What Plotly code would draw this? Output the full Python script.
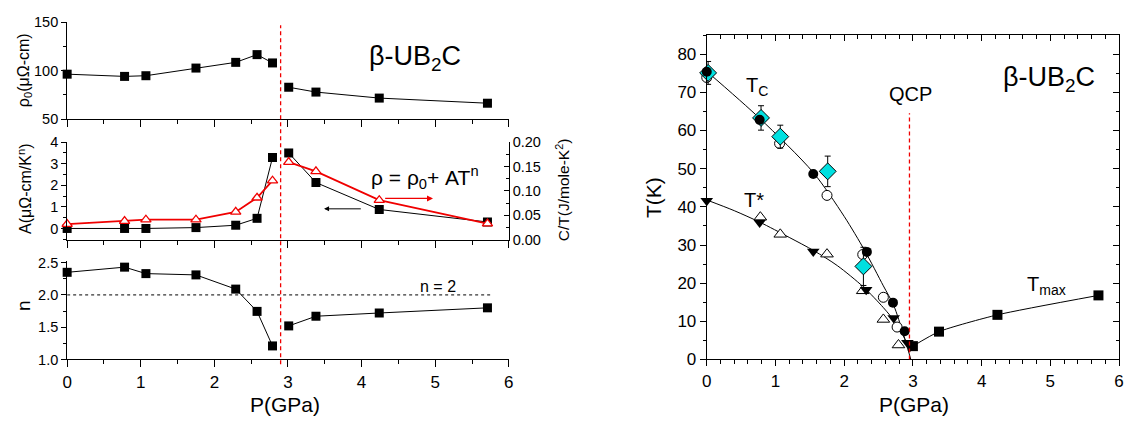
import plotly.graph_objects as go

W, H = 1131, 434
FONT = "Liberation Sans, Arial, sans-serif"
RED = "#f00000"
CYAN = "#00e0e0"

# ---- resistivity fit parameters vs pressure (left column) ----
pressure = [0, 0.78, 1.07, 1.75, 2.29, 2.58, 2.79, 3.01, 3.38, 4.24, 5.71]
rho0 = [96.5, 94.2, 94.9, 102.8, 108.7, 116.7, 108.1, 83.0, 78.0, 71.8, 66.5]
coef_a = [0.0, 0.0, 0.0, 0.04, 0.15, 0.47, 3.29, 3.50, 2.13, 0.88, 0.30]
c_over_t = [0.032, 0.038, 0.041, 0.041, 0.057, 0.086, 0.121, 0.159, 0.140, 0.081, 0.033]
exponent_n = [2.35, 2.43, 2.33, 2.31, 2.09, 1.745, 1.21, 1.52, 1.67, 1.72, 1.80]
p_qcp_left = 2.9

# ---- phase diagram (right column) ----
tc_fill_p = [0, 0.77, 1.55, 2.33, 2.71, 2.88]
tc_fill_t = [75.4, 62.8, 48.6, 28.2, 14.9, 7.4]
tc_open_p = [0, 1.06, 1.75, 2.27, 2.57, 2.77]
tc_open_t = [73.9, 56.6, 43.0, 27.5, 16.3, 8.5]
tc_dia_p = [0.02, 0.79, 1.07, 1.76, 2.28]
tc_dia_t = [75.1, 63.3, 58.4, 49.3, 24.4]
tc_dia_err = [3.0, 3.2, 3.0, 4.0, 5.0]
tstar_fill_p = [0, 0.77, 1.55, 2.32, 2.72, 2.92]
tstar_fill_t = [41.6, 35.9, 28.3, 18.3, 10.9, 4.4]
tstar_open_p = [0.78, 1.07, 1.75, 2.27, 2.57, 2.79]
tstar_open_t = [37.3, 32.8, 27.6, 18.0, 10.5, 3.8]
tmax_p = [3.0, 3.38, 4.23, 5.70]
tmax_t = [3.5, 7.3, 11.7, 16.8]
tc_curve_p = [0, 0.77, 1.55, 2.0, 2.3, 2.57, 2.72, 2.86, 2.97]
tc_curve_t = [75.5, 63.2, 49.0, 37.5, 28.5, 19.3, 14.2, 6.7, 0.0]
tstar_curve_p = [0, 0.4, 0.77, 1.2, 1.56, 1.9, 2.28, 2.57, 2.75, 2.88, 2.96]
tstar_curve_t = [41.8, 39.0, 36.0, 32.0, 28.5, 24.6, 19.0, 13.6, 9.6, 5.5, 2.0]
p_qcp_right = 2.95


def px(x):
    return x / W


def py(y):
    return 1 - y / H


def split(xs, ys, cut):
    lo = [(x, y) for x, y in zip(xs, ys) if x < cut]
    hi = [(x, y) for x, y in zip(xs, ys) if x >= cut]
    return [list(zip(*lo)), list(zip(*hi))]


fig = go.Figure()

sq = dict(symbol="square", size=9, color="black", line=dict(width=0))

# top: residual resistivity
for xs, ys in split(pressure, rho0, p_qcp_left):
    fig.add_trace(go.Scatter(x=xs, y=ys, xaxis="x", yaxis="y", mode="lines+markers",
                             line=dict(color="black", width=1), marker=sq, cliponaxis=False))
# middle: A coefficient (left axis) and C/T (right axis)
for xs, ys in split(pressure, c_over_t, p_qcp_left):
    fig.add_trace(go.Scatter(x=xs, y=ys, xaxis="x2", yaxis="y4", mode="lines+markers",
                             line=dict(color=RED, width=1.8),
                             marker=dict(symbol="triangle-up", size=9, color="white",
                                         line=dict(color=RED, width=1.3)),
                             cliponaxis=False))
for xs, ys in split(pressure, coef_a, p_qcp_left):
    fig.add_trace(go.Scatter(x=xs, y=ys, xaxis="x2", yaxis="y2", mode="lines+markers",
                             line=dict(color="black", width=1), marker=sq, cliponaxis=False))
# bottom: exponent n
for xs, ys in split(pressure, exponent_n, p_qcp_left):
    fig.add_trace(go.Scatter(x=xs, y=ys, xaxis="x3", yaxis="y3", mode="lines+markers",
                             line=dict(color="black", width=1), marker=sq, cliponaxis=False))

# right: phase diagram
fig.add_trace(go.Scatter(x=tc_curve_p, y=tc_curve_t, xaxis="x5", yaxis="y5", mode="lines",
                         line=dict(color="black", width=1, shape="spline", smoothing=0.8)))
fig.add_trace(go.Scatter(x=tstar_curve_p, y=tstar_curve_t, xaxis="x5", yaxis="y5", mode="lines",
                         line=dict(color="black", width=1, shape="spline", smoothing=0.8)))
fig.add_trace(go.Scatter(x=tmax_p, y=tmax_t, xaxis="x5", yaxis="y5", mode="lines+markers",
                         line=dict(color="black", width=1, shape="spline", smoothing=0.6),
                         marker=dict(symbol="square", size=10, color="black"), cliponaxis=False))
fig.add_trace(go.Scatter(x=tc_open_p, y=tc_open_t, xaxis="x5", yaxis="y5", mode="markers",
                         marker=dict(symbol="circle", size=10, color="white",
                                     line=dict(color="black", width=1)), cliponaxis=False))
fig.add_trace(go.Scatter(x=tstar_open_p, y=tstar_open_t, xaxis="x5", yaxis="y5", mode="markers",
                         marker=dict(symbol="triangle-up", size=11, color="white",
                                     line=dict(color="black", width=1)), cliponaxis=False))
fig.add_trace(go.Scatter(x=tc_dia_p, y=tc_dia_t, xaxis="x5", yaxis="y5", mode="markers",
                         error_y=dict(type="data", array=tc_dia_err, color="black",
                                      thickness=1, width=3),
                         marker=dict(symbol="diamond", size=13, color=CYAN,
                                     line=dict(color="black", width=1)), cliponaxis=False))
fig.add_trace(go.Scatter(x=tc_fill_p, y=tc_fill_t, xaxis="x5", yaxis="y5", mode="markers",
                         marker=dict(symbol="circle", size=10, color="black"), cliponaxis=False))
fig.add_trace(go.Scatter(x=tstar_fill_p, y=tstar_fill_t, xaxis="x5", yaxis="y5", mode="markers",
                         marker=dict(symbol="triangle-down", size=11, color="black"),
                         cliponaxis=False))
# anchors for the inward-pointing mirror ticks
fig.add_trace(go.Scatter(x=[None], y=[None], xaxis="x6", yaxis="y5", showlegend=False))
fig.add_trace(go.Scatter(x=[None], y=[None], xaxis="x5", yaxis="y6", showlegend=False))

LX = [px(62.7), px(508.3)]
RX = [px(708), px(1124)]
tickfont_small = dict(family=FONT, size=14.5, color="black")
tickfont_big = dict(family=FONT, size=17, color="black")


def xax(anchor, labels, domain=LX, minor_step=0.5, direction="outside", ticklen=7, **kw):
    d = dict(domain=domain, anchor=anchor, range=[0, 6], dtick=1, tick0=0,
             ticks=direction, ticklen=ticklen, tickwidth=1, tickcolor="black",
             showline=True, linecolor="black", linewidth=1, showgrid=False, zeroline=False,
             showticklabels=labels, tickfont=tickfont_big,
             minor=dict(dtick=minor_step, ticks=direction, ticklen=4, tickcolor="black",
                        showgrid=False))
    d.update(kw)
    return d


def yax(anchor, domain, rng, step, minor_step, font=tickfont_small, direction="outside",
        ticklen=5, **kw):
    d = dict(domain=domain, anchor=anchor, range=list(rng), dtick=step, tick0=0,
             ticks=direction, ticklen=ticklen, tickwidth=1, tickcolor="black",
             showline=True, linecolor="black", linewidth=1, showgrid=False, zeroline=False,
             tickfont=font,
             minor=dict(dtick=minor_step, ticks=direction, ticklen=3, tickcolor="black",
                        showgrid=False))
    d.update(kw)
    return d


fig.update_layout(
    width=W, height=H, margin=dict(l=0, r=0, t=0, b=0),
    paper_bgcolor="white", plot_bgcolor="rgba(0,0,0,0)", showlegend=False,
    font=dict(family=FONT, color="black"),
    xaxis=xax("y", False),
    xaxis2=xax("y2", False, matches="x"),
    xaxis3=xax("y3", True, matches="x"),
    yaxis=yax("x", [py(116), py(15)], (50, 150), 50, 25),
    yaxis2=yax("x2", [py(241.7), py(140)], (-0.52, 4), 1, 0.5),
    yaxis4=yax("x2", [py(241.7), py(140)], (0, 0.2), 0.05, 0.025, overlaying="y2",
               side="right", direction="inside", tickformat=".2f"),
    yaxis3=yax("x3", [py(366.7), py(264.3)], (1, 2.52), 0.5, 0.25, tickformat=".1f"),
    xaxis5=xax("y5", True, domain=RX, minor_step=0.2, mirror=True, ticklen=6),
    yaxis5=yax("x5", [py(366.7), py(28.3)], (0, 85), 10, 5, font=tickfont_big,
               mirror=True, ticklen=6),
    xaxis6=xax("y5", False, domain=RX, minor_step=0.2, overlaying="x5", side="top",
               direction="inside", ticklen=6),
    yaxis6=yax("x5", [py(366.7), py(28.3)], (0, 85), 10, 5, overlaying="y5", side="right",
               direction="inside", ticklen=6, showticklabels=False),
)

shapes = [
    # QCP markers
    dict(type="line", xref="x", yref="paper", x0=p_qcp_left, x1=p_qcp_left,
         y0=py(371.7), y1=py(18), line=dict(color=RED, width=1.3, dash="4px,3px")),
    dict(type="line", xref="x5", yref="y5", x0=p_qcp_right, x1=p_qcp_right,
         y0=0, y1=64.5, line=dict(color=RED, width=1.3, dash="4px,3px")),
    # n = 2 reference
    dict(type="line", xref="x3", yref="y3", x0=0, x1=5.78, y0=2, y1=2,
         line=dict(color="black", width=1, dash="dot")),
]
fig.update_layout(shapes=shapes)


def note(text, x, y, size, xanchor="center", yanchor="middle", angle=0):
    fig.add_annotation(text=text, x=px(x), y=py(y), xref="paper", yref="paper",
                       showarrow=False, xanchor=xanchor, yanchor=yanchor, textangle=angle,
                       font=dict(family=FONT, size=size, color="black"))


note("β-UB<sub>2</sub>C", 414, 52, 27)
note("β-UB<sub>2</sub>C", 1053, 74, 27)
note("QCP", 914, 90, 20)
note("T<sub>C</sub>", 746, 82, 20, xanchor="left")
note("T*", 744, 200, 20, xanchor="left")
note("T<sub>max</sub>", 1029, 290, 20, xanchor="left")
note("n = 2", 437, 291, 16)
note("ρ = ρ<sub>0</sub>+ AT<sup>n</sup>", 424, 177, 21)
note("ρ<sub>0</sub>(μΩ-cm)", 19, 65, 16, angle=-90)
note("A(μΩ-cm/K<sup>n</sup>)", 20, 188, 16, angle=-90)
note("n", 18, 310, 19, angle=-90)
note("C/T(J/mole-K<sup>2</sup>)", 563, 190, 15.5, angle=-90)
note("P(GPa)", 282, 414, 21)
note("P(GPa)", 917, 414, 21)
note("T(K)", 655, 198, 21, angle=-90)

# arrows pointing each curve to its axis
fig.add_annotation(x=3.49, y=0.91, ax=4.01, ay=0.91, xref="x2", yref="y2",
                   axref="x2", ayref="y2", text="", showarrow=True,
                   arrowhead=2, arrowsize=1, arrowwidth=1, arrowcolor="black")
fig.add_annotation(x=4.97, y=0.0846, ax=4.3, ay=0.0846, xref="x2", yref="y4",
                   axref="x2", ayref="y4", text="", showarrow=True,
                   arrowhead=2, arrowsize=1, arrowwidth=1.2, arrowcolor=RED)

fig.write_html("out.html")
